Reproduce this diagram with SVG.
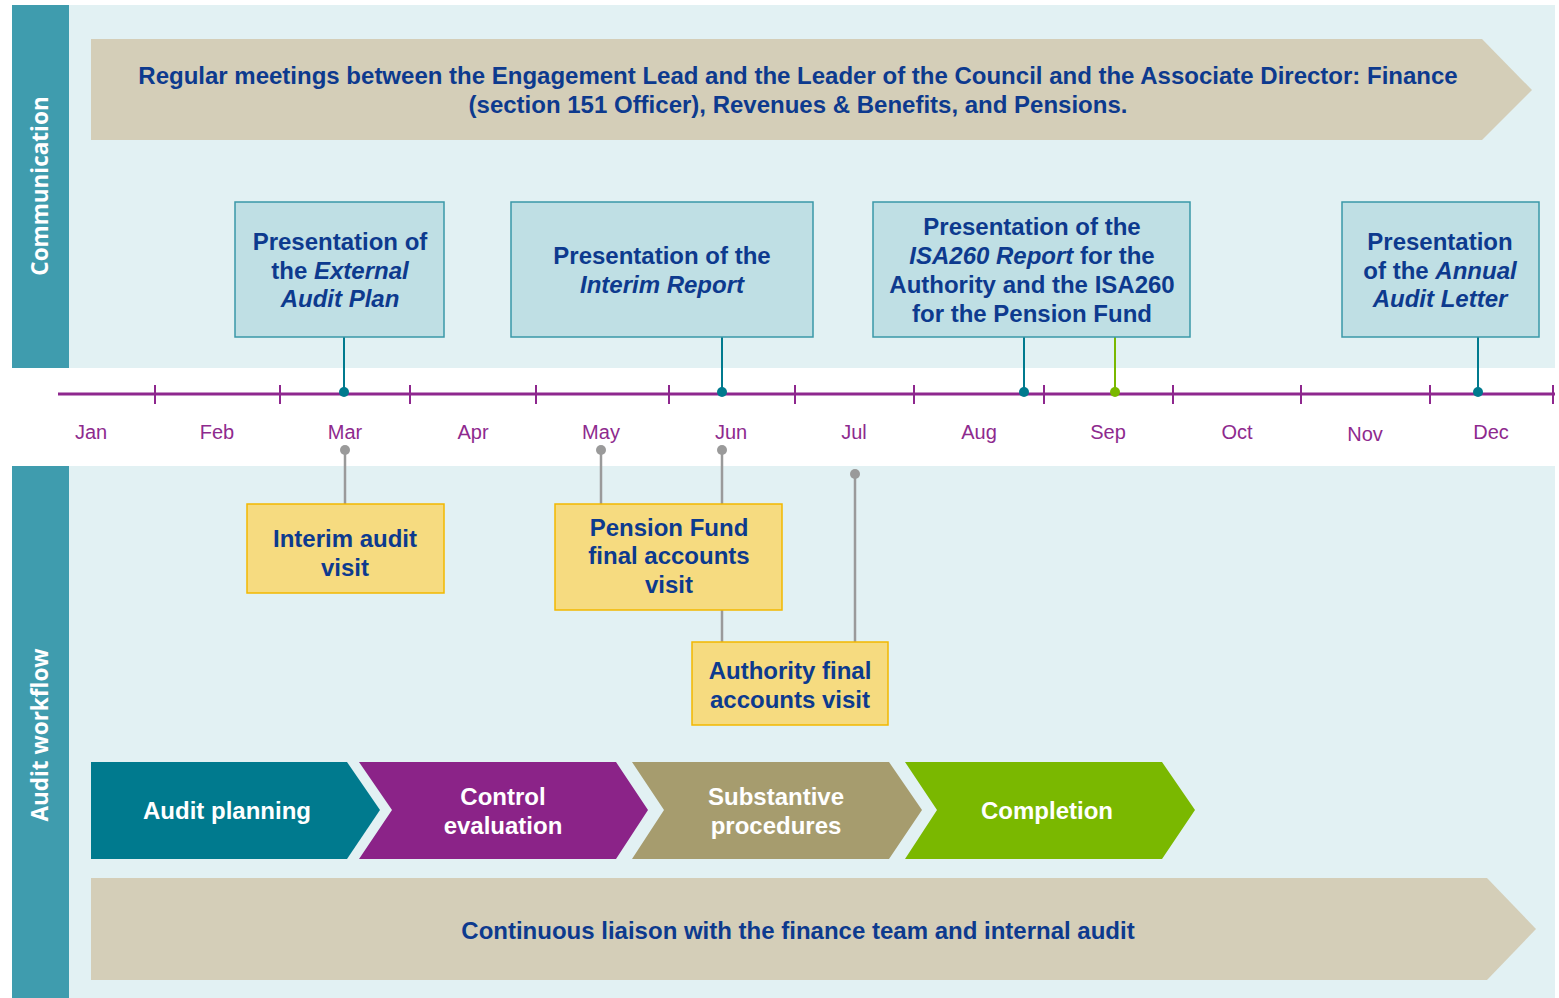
<svg xmlns="http://www.w3.org/2000/svg" width="1559" height="998" viewBox="0 0 1559 998">
<defs>
<style>
.bg{fill:#E2F1F3}
.side{fill:#3F9CAE}
.sidelbl{font-family:"Open Sans","Liberation Sans",sans-serif;font-weight:bold;font-size:22.5px;fill:#FFFFFF;text-anchor:middle}
.banner{fill:#D4CEB8}
.bt{font-family:"Liberation Sans",Arial,sans-serif;font-weight:bold;font-size:24px;fill:#0D3A8E;text-anchor:middle}
.comm{fill:#BFDFE4;stroke:#3A98A8;stroke-width:1.5}
.visit{fill:#F6DB80;stroke:#F2B800;stroke-width:1.5}
.wt{font-family:"Liberation Sans",Arial,sans-serif;font-weight:bold;font-size:24px;fill:#FFFFFF;text-anchor:middle}
.mon{font-family:"Liberation Sans",Arial,sans-serif;font-size:20px;fill:#8E2A8E;text-anchor:middle}
.tl{stroke:#8E278E;stroke-width:3;fill:none}
.tick{stroke:#8E278E;stroke-width:2}
.tc{stroke:#007A8E;stroke-width:2}
.gc{stroke:#7AB800;stroke-width:2}
.gr{stroke:#9A9A9A;stroke-width:2.5}
</style>
</defs>
<rect x="0" y="0" width="1559" height="998" fill="#FFFFFF"/>
<g id="background">
<rect class="bg" x="69" y="5" width="1486" height="363"/>
<rect class="bg" x="69" y="466" width="1486" height="532"/>
<rect class="side" x="12" y="5" width="57" height="363"/>
<rect class="side" x="12" y="466" width="57" height="532"/>
<text class="sidelbl" transform="translate(48,186) rotate(-90)">Communication</text>
<text class="sidelbl" transform="translate(48,735) rotate(-90)">Audit workflow</text>
</g>
<g id="banner-top">
<polygon class="banner" points="91,39 1482,39 1532,90 1482,140 91,140"/>
<text class="bt" x="798" y="84">Regular meetings between the Engagement Lead and the Leader of the Council and the Associate Director: Finance</text>
<text class="bt" x="798" y="113">(section 151 Officer), Revenues &amp; Benefits, and Pensions.</text>
</g>
<g id="timeline">
<line class="tl" x1="58" y1="394" x2="1555" y2="394"/>
<line class="tick" x1="155" y1="385" x2="155" y2="404"/>
<line class="tick" x1="280" y1="385" x2="280" y2="404"/>
<line class="tick" x1="410" y1="385" x2="410" y2="404"/>
<line class="tick" x1="536" y1="385" x2="536" y2="404"/>
<line class="tick" x1="669" y1="385" x2="669" y2="404"/>
<line class="tick" x1="795" y1="385" x2="795" y2="404"/>
<line class="tick" x1="914" y1="385" x2="914" y2="404"/>
<line class="tick" x1="1044" y1="385" x2="1044" y2="404"/>
<line class="tick" x1="1173" y1="385" x2="1173" y2="404"/>
<line class="tick" x1="1301" y1="385" x2="1301" y2="404"/>
<line class="tick" x1="1430" y1="385" x2="1430" y2="404"/>
<line class="tick" x1="1553" y1="385" x2="1553" y2="404"/>
<text class="mon" x="91" y="439">Jan</text>
<text class="mon" x="217" y="439">Feb</text>
<text class="mon" x="345" y="439">Mar</text>
<text class="mon" x="473" y="439">Apr</text>
<text class="mon" x="601" y="439">May</text>
<text class="mon" x="731" y="439">Jun</text>
<text class="mon" x="854" y="439">Jul</text>
<text class="mon" x="979" y="439">Aug</text>
<text class="mon" x="1108" y="439">Sep</text>
<text class="mon" x="1237" y="439">Oct</text>
<text class="mon" x="1365" y="441">Nov</text>
<text class="mon" x="1491" y="439">Dec</text>
</g>
<g id="connectors">
<line class="tc" x1="344" y1="337" x2="344" y2="392"/>
<circle cx="344" cy="392" r="5" fill="#007A8E"/>
<line class="tc" x1="722" y1="337" x2="722" y2="392"/>
<circle cx="722" cy="392" r="5" fill="#007A8E"/>
<line class="tc" x1="1024" y1="337" x2="1024" y2="392"/>
<circle cx="1024" cy="392" r="5" fill="#007A8E"/>
<line class="gc" x1="1115" y1="337" x2="1115" y2="392"/>
<circle cx="1115" cy="392" r="5" fill="#7AB800"/>
<line class="tc" x1="1478" y1="337" x2="1478" y2="392"/>
<circle cx="1478" cy="392" r="5" fill="#007A8E"/>
<line class="gr" x1="345" y1="450" x2="345" y2="504"/>
<circle cx="345" cy="450" r="5" fill="#9A9A9A"/>
<line class="gr" x1="601" y1="450" x2="601" y2="504"/>
<circle cx="601" cy="450" r="5" fill="#9A9A9A"/>
<line class="gr" x1="722" y1="450" x2="722" y2="504"/>
<circle cx="722" cy="450" r="5" fill="#9A9A9A"/>
<line class="gr" x1="722" y1="610" x2="722" y2="642"/>
<line class="gr" x1="855" y1="474" x2="855" y2="642"/>
<circle cx="855" cy="474" r="5" fill="#9A9A9A"/>
</g>
<g id="comm-external-audit-plan">
<rect class="comm" x="235" y="202" width="209" height="135"/>
<text class="bt" x="340" y="250">Presentation of</text>
<text class="bt" x="340" y="279">the <tspan font-style="italic">External</tspan></text>
<text class="bt" x="340" y="307"><tspan font-style="italic">Audit Plan</tspan></text>
</g>
<g id="comm-interim-report">
<rect class="comm" x="511" y="202" width="302" height="135"/>
<text class="bt" x="662" y="264">Presentation of the</text>
<text class="bt" x="662" y="293"><tspan font-style="italic">Interim Report</tspan></text>
</g>
<g id="comm-isa260">
<rect class="comm" x="873" y="202" width="317" height="135"/>
<text class="bt" x="1032" y="235">Presentation of the</text>
<text class="bt" x="1032" y="264"><tspan font-style="italic">ISA260 Report</tspan> for the</text>
<text class="bt" x="1032" y="293">Authority and the ISA260</text>
<text class="bt" x="1032" y="322">for the Pension Fund</text>
</g>
<g id="comm-annual-audit-letter">
<rect class="comm" x="1342" y="202" width="197" height="135"/>
<text class="bt" x="1440" y="250">Presentation</text>
<text class="bt" x="1440" y="279">of the <tspan font-style="italic">Annual</tspan></text>
<text class="bt" x="1440" y="307"><tspan font-style="italic">Audit Letter</tspan></text>
</g>
<g id="visit-interim">
<rect class="visit" x="247" y="504" width="197" height="89"/>
<text class="bt" x="345" y="547">Interim audit</text>
<text class="bt" x="345" y="576">visit</text>
</g>
<g id="visit-pension-fund">
<rect class="visit" x="555" y="504" width="227" height="106"/>
<text class="bt" x="669" y="536">Pension Fund</text>
<text class="bt" x="669" y="564">final accounts</text>
<text class="bt" x="669" y="593">visit</text>
</g>
<g id="visit-authority">
<rect class="visit" x="692" y="642" width="196" height="83"/>
<text class="bt" x="790" y="679">Authority final</text>
<text class="bt" x="790" y="708">accounts visit</text>
</g>
<g id="phase-audit-planning">
<polygon points="91,762 347,762 380,810 347,859 91,859" fill="#007A8E"/>
<text class="wt" x="227" y="819">Audit planning</text>
</g>
<g id="phase-control-evaluation">
<polygon points="359,762 616,762 648,810 616,859 359,859 392,810" fill="#8B2388"/>
<text class="wt" x="503" y="805">Control</text>
<text class="wt" x="503" y="834">evaluation</text>
</g>
<g id="phase-substantive">
<polygon points="632,762 889,762 922,810 889,859 632,859 664,810" fill="#A69C6E"/>
<text class="wt" x="776" y="805">Substantive</text>
<text class="wt" x="776" y="834">procedures</text>
</g>
<g id="phase-completion">
<polygon points="905,762 1162,762 1195,810 1162,859 905,859 937,810" fill="#7AB800"/>
<text class="wt" x="1047" y="819">Completion</text>
</g>
<g id="banner-bottom">
<polygon class="banner" points="91,878 1487,878 1536,929 1487,980 91,980"/>
<text class="bt" x="798" y="939">Continuous liaison with the finance team and internal audit</text>
</g>
</svg>
